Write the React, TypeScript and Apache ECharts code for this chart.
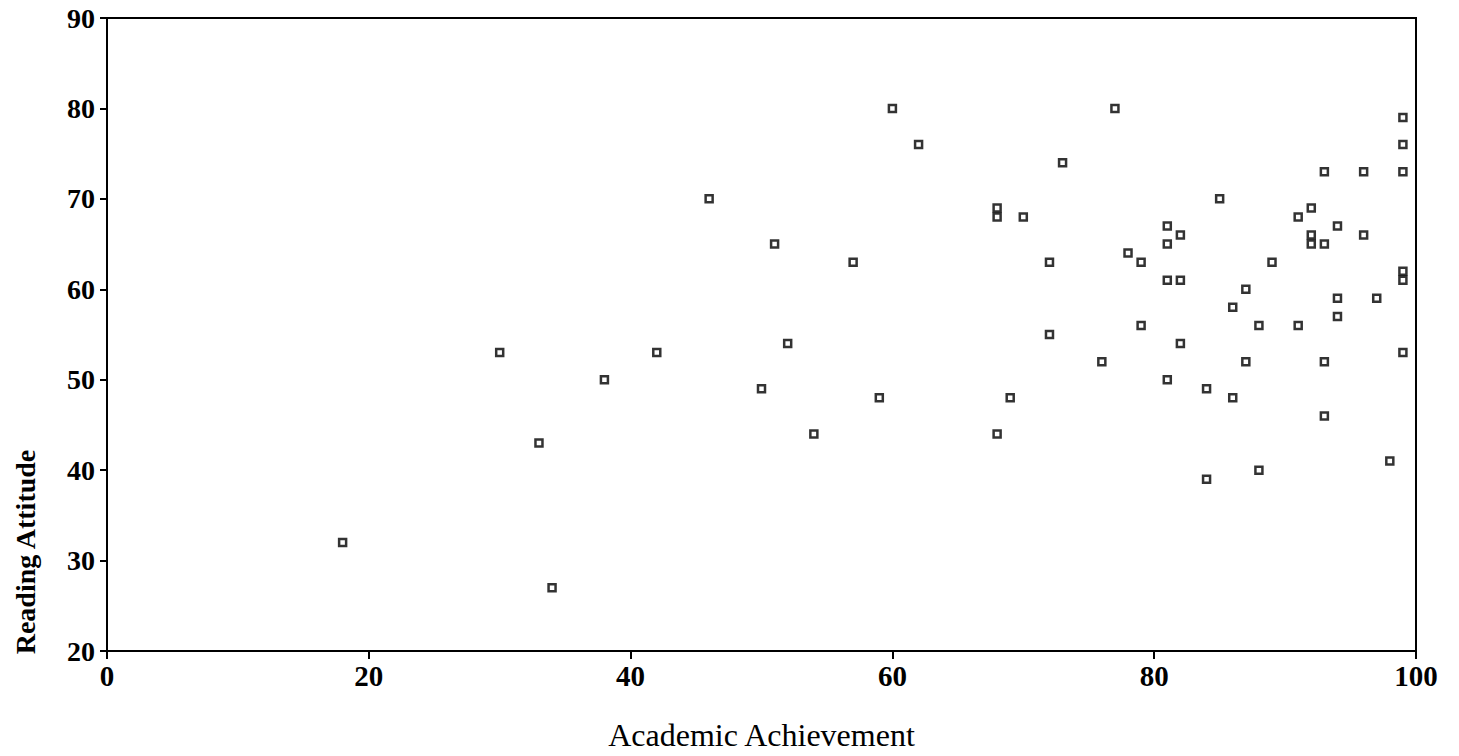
import React, { useEffect, useRef } from "react";
import * as echarts from "echarts";

const xTicks = [0, 20, 40, 60, 80, 100];
const yTicks = [20, 30, 40, 50, 60, 70, 80, 90];

const achievement = [
  18, 30, 33, 34, 38, 42, 46, 51, 50, 52, 54, 57, 59, 60, 62,
  68, 68, 70, 73, 77, 72, 72, 76, 78, 79, 79, 81, 81, 82, 81,
  82, 82, 81, 84, 85, 87, 86, 87, 88, 89, 91, 91, 92, 92, 92,
  93, 93, 94, 94, 94, 93, 96, 96, 97, 99, 99, 99, 99, 99, 99,
  69, 68, 86, 93, 84, 88, 98,
];

const attitude = [
  32, 53, 43, 27, 50, 53, 70, 65, 49, 54, 44, 63, 48, 80, 76,
  69, 68, 68, 74, 80, 63, 55, 52, 64, 63, 56, 67, 65, 66, 61,
  61, 54, 50, 49, 70, 60, 58, 52, 56, 63, 68, 56, 69, 66, 65,
  65, 73, 67, 59, 57, 52, 73, 66, 59, 79, 76, 73, 62, 61, 53,
  48, 44, 48, 46, 39, 40, 41,
];

const xTitle = "Academic Achievement";
const yTitle = "Reading Attitude";

export default function App() {
  const ref = useRef<HTMLDivElement>(null);

  useEffect(() => {
    if (!ref.current) return;
    const chart = echarts.init(ref.current, null, { renderer: "svg" });
    const points = achievement.map((x, i) => [x, attitude[i]]);
    const serif = "'Liberation Serif', 'Times New Roman', serif";
    chart.setOption({
      animation: false,
      backgroundColor: "#ffffff",
      grid: {
        left: 107,
        right: 43,
        top: 18,
        bottom: 104,
        show: true,
        borderColor: "#000",
        borderWidth: 2,
        backgroundColor: "transparent",
      },
      xAxis: {
        type: "value",
        min: xTicks[0],
        max: xTicks[xTicks.length - 1],
        interval: 20,
        name: xTitle,
        nameLocation: "middle",
        nameGap: 68,
        nameTextStyle: { fontFamily: serif, fontSize: 32, color: "#000" },
        axisLine: { show: true, lineStyle: { color: "#000", width: 2 } },
        axisTick: { show: true, inside: false, length: 8, lineStyle: { color: "#000", width: 2 } },
        axisLabel: { fontFamily: serif, fontSize: 29, fontWeight: "bold", color: "#000", margin: 10 },
        splitLine: { show: false },
      },
      yAxis: {
        type: "value",
        min: yTicks[0],
        max: yTicks[yTicks.length - 1],
        interval: 10,
        axisLine: { show: true, lineStyle: { color: "#000", width: 2 } },
        axisTick: { show: true, inside: false, length: 7, lineStyle: { color: "#000", width: 2 } },
        axisLabel: { fontFamily: serif, fontSize: 28, fontWeight: "bold", color: "#000", margin: 12 },
        splitLine: { show: false },
      },
      graphic: [
        {
          type: "text",
          x: 25,
          y: 552,
          rotation: Math.PI / 2,
          style: {
            text: yTitle,
            fontFamily: serif,
            fontSize: 28,
            fontWeight: "bold",
            fill: "#000",
            textAlign: "center",
            textVerticalAlign: "middle",
          },
        },
      ],
      series: [
        {
          type: "scatter",
          data: points,
          symbol: "rect",
          symbolSize: 7,
          itemStyle: { color: "#fff", borderColor: "#000", borderWidth: 2.5 },
        },
      ],
    });
    return () => chart.dispose();
  }, []);

  return (
    <div
      ref={ref}
      style={{ position: "fixed", left: 0, top: 0, width: 1459, height: 756, background: "#fff" }}
    />
  );
}
